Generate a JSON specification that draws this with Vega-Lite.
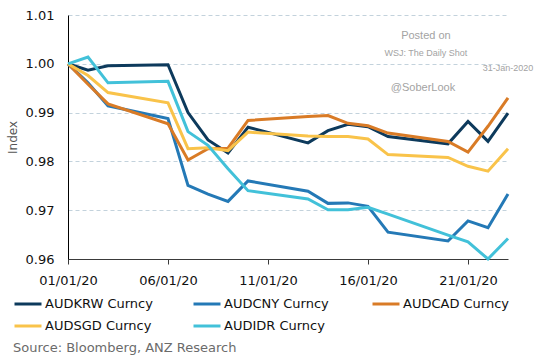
{
  "$schema": "https://vega.github.io/schema/vega-lite/v6.json",
  "width": 440,
  "height": 244,
  "autosize": {"type": "none"},
  "padding": {"left": 68, "top": 15, "right": 33, "bottom": 103},
  "background": "white",
  "title": {
    "text": "Source: Bloomberg, ANZ Research",
    "orient": "bottom",
    "anchor": "start",
    "frame": "group",
    "dx": -55,
    "offset": 9,
    "font": "DejaVu Sans",
    "fontSize": 13,
    "fontWeight": "normal",
    "color": "#6b6b6b"
  },
  "datasets": {
    "fx": [
      {"s": "AUDKRW Curncy", "d": "2020-01-01", "v": 1.0},
      {"s": "AUDKRW Curncy", "d": "2020-01-02", "v": 0.9987},
      {"s": "AUDKRW Curncy", "d": "2020-01-03", "v": 0.9996},
      {"s": "AUDKRW Curncy", "d": "2020-01-06", "v": 0.9998},
      {"s": "AUDKRW Curncy", "d": "2020-01-07", "v": 0.990},
      {"s": "AUDKRW Curncy", "d": "2020-01-08", "v": 0.9844},
      {"s": "AUDKRW Curncy", "d": "2020-01-09", "v": 0.9817},
      {"s": "AUDKRW Curncy", "d": "2020-01-10", "v": 0.987},
      {"s": "AUDKRW Curncy", "d": "2020-01-13", "v": 0.9838},
      {"s": "AUDKRW Curncy", "d": "2020-01-14", "v": 0.9863},
      {"s": "AUDKRW Curncy", "d": "2020-01-15", "v": 0.9876},
      {"s": "AUDKRW Curncy", "d": "2020-01-16", "v": 0.9871},
      {"s": "AUDKRW Curncy", "d": "2020-01-17", "v": 0.9851},
      {"s": "AUDKRW Curncy", "d": "2020-01-20", "v": 0.9836},
      {"s": "AUDKRW Curncy", "d": "2020-01-21", "v": 0.9882},
      {"s": "AUDKRW Curncy", "d": "2020-01-22", "v": 0.9841},
      {"s": "AUDKRW Curncy", "d": "2020-01-23", "v": 0.9899},
      {"s": "AUDCNY Curncy", "d": "2020-01-01", "v": 1.0},
      {"s": "AUDCNY Curncy", "d": "2020-01-02", "v": 0.9961},
      {"s": "AUDCNY Curncy", "d": "2020-01-03", "v": 0.9914},
      {"s": "AUDCNY Curncy", "d": "2020-01-06", "v": 0.9888},
      {"s": "AUDCNY Curncy", "d": "2020-01-07", "v": 0.9751},
      {"s": "AUDCNY Curncy", "d": "2020-01-08", "v": 0.9733},
      {"s": "AUDCNY Curncy", "d": "2020-01-09", "v": 0.9718},
      {"s": "AUDCNY Curncy", "d": "2020-01-10", "v": 0.976},
      {"s": "AUDCNY Curncy", "d": "2020-01-13", "v": 0.9739},
      {"s": "AUDCNY Curncy", "d": "2020-01-14", "v": 0.9714},
      {"s": "AUDCNY Curncy", "d": "2020-01-15", "v": 0.9715},
      {"s": "AUDCNY Curncy", "d": "2020-01-16", "v": 0.9708},
      {"s": "AUDCNY Curncy", "d": "2020-01-17", "v": 0.9655},
      {"s": "AUDCNY Curncy", "d": "2020-01-20", "v": 0.9637},
      {"s": "AUDCNY Curncy", "d": "2020-01-21", "v": 0.9678},
      {"s": "AUDCNY Curncy", "d": "2020-01-22", "v": 0.9664},
      {"s": "AUDCNY Curncy", "d": "2020-01-23", "v": 0.9733},
      {"s": "AUDCAD Curncy", "d": "2020-01-01", "v": 1.0},
      {"s": "AUDCAD Curncy", "d": "2020-01-02", "v": 0.9958},
      {"s": "AUDCAD Curncy", "d": "2020-01-03", "v": 0.9918},
      {"s": "AUDCAD Curncy", "d": "2020-01-06", "v": 0.9877},
      {"s": "AUDCAD Curncy", "d": "2020-01-07", "v": 0.9803},
      {"s": "AUDCAD Curncy", "d": "2020-01-08", "v": 0.9826},
      {"s": "AUDCAD Curncy", "d": "2020-01-09", "v": 0.9827},
      {"s": "AUDCAD Curncy", "d": "2020-01-10", "v": 0.9884},
      {"s": "AUDCAD Curncy", "d": "2020-01-13", "v": 0.9892},
      {"s": "AUDCAD Curncy", "d": "2020-01-14", "v": 0.9894},
      {"s": "AUDCAD Curncy", "d": "2020-01-15", "v": 0.9878},
      {"s": "AUDCAD Curncy", "d": "2020-01-16", "v": 0.9873},
      {"s": "AUDCAD Curncy", "d": "2020-01-17", "v": 0.9858},
      {"s": "AUDCAD Curncy", "d": "2020-01-20", "v": 0.9841},
      {"s": "AUDCAD Curncy", "d": "2020-01-21", "v": 0.9819},
      {"s": "AUDCAD Curncy", "d": "2020-01-22", "v": 0.9872},
      {"s": "AUDCAD Curncy", "d": "2020-01-23", "v": 0.993},
      {"s": "AUDSGD Curncy", "d": "2020-01-01", "v": 1.0},
      {"s": "AUDSGD Curncy", "d": "2020-01-02", "v": 0.9976},
      {"s": "AUDSGD Curncy", "d": "2020-01-03", "v": 0.9941},
      {"s": "AUDSGD Curncy", "d": "2020-01-06", "v": 0.992},
      {"s": "AUDSGD Curncy", "d": "2020-01-07", "v": 0.9826},
      {"s": "AUDSGD Curncy", "d": "2020-01-08", "v": 0.9828},
      {"s": "AUDSGD Curncy", "d": "2020-01-09", "v": 0.9822},
      {"s": "AUDSGD Curncy", "d": "2020-01-10", "v": 0.986},
      {"s": "AUDSGD Curncy", "d": "2020-01-13", "v": 0.9852},
      {"s": "AUDSGD Curncy", "d": "2020-01-14", "v": 0.9851},
      {"s": "AUDSGD Curncy", "d": "2020-01-15", "v": 0.9851},
      {"s": "AUDSGD Curncy", "d": "2020-01-16", "v": 0.9846},
      {"s": "AUDSGD Curncy", "d": "2020-01-17", "v": 0.9814},
      {"s": "AUDSGD Curncy", "d": "2020-01-20", "v": 0.9808},
      {"s": "AUDSGD Curncy", "d": "2020-01-21", "v": 0.979},
      {"s": "AUDSGD Curncy", "d": "2020-01-22", "v": 0.978},
      {"s": "AUDSGD Curncy", "d": "2020-01-23", "v": 0.9826},
      {"s": "AUDIDR Curncy", "d": "2020-01-01", "v": 1.0},
      {"s": "AUDIDR Curncy", "d": "2020-01-02", "v": 1.0014},
      {"s": "AUDIDR Curncy", "d": "2020-01-03", "v": 0.9961},
      {"s": "AUDIDR Curncy", "d": "2020-01-06", "v": 0.9964},
      {"s": "AUDIDR Curncy", "d": "2020-01-07", "v": 0.9861},
      {"s": "AUDIDR Curncy", "d": "2020-01-08", "v": 0.9833},
      {"s": "AUDIDR Curncy", "d": "2020-01-09", "v": 0.9785},
      {"s": "AUDIDR Curncy", "d": "2020-01-10", "v": 0.974},
      {"s": "AUDIDR Curncy", "d": "2020-01-13", "v": 0.9723},
      {"s": "AUDIDR Curncy", "d": "2020-01-14", "v": 0.9701},
      {"s": "AUDIDR Curncy", "d": "2020-01-15", "v": 0.9701},
      {"s": "AUDIDR Curncy", "d": "2020-01-16", "v": 0.9706},
      {"s": "AUDIDR Curncy", "d": "2020-01-17", "v": 0.9692},
      {"s": "AUDIDR Curncy", "d": "2020-01-20", "v": 0.9649},
      {"s": "AUDIDR Curncy", "d": "2020-01-21", "v": 0.9635},
      {"s": "AUDIDR Curncy", "d": "2020-01-22", "v": 0.960},
      {"s": "AUDIDR Curncy", "d": "2020-01-23", "v": 0.9642}
    ],
    "notes": [
      {"d": "2020-01-18T21:30:00Z", "v": 1.0057, "t": "Posted on", "a": "left", "f": 11},
      {"d": "2020-01-18T21:30:00Z", "v": 1.0022, "t": "WSJ: The Daily Shot", "a": "left", "f": 9},
      {"d": "2020-01-23T00:00:00Z", "v": 0.9992, "t": "31-Jan-2020", "a": "right", "f": 9},
      {"d": "2020-01-18T18:00:00Z", "v": 0.9951, "t": "@SoberLook", "a": "left", "f": 11}
    ]
  },
  "encoding": {
    "x": {
      "field": "d",
      "type": "temporal",
      "scale": {
        "type": "utc",
        "domain": [
          {"year": 2020, "month": 1, "date": 1, "utc": true},
          {"year": 2020, "month": 1, "date": 23, "utc": true}
        ]
      },
      "axis": {
        "title": null,
        "values": [
          {"year": 2020, "month": 1, "date": 1, "utc": true},
          {"year": 2020, "month": 1, "date": 6, "utc": true},
          {"year": 2020, "month": 1, "date": 11, "utc": true},
          {"year": 2020, "month": 1, "date": 16, "utc": true},
          {"year": 2020, "month": 1, "date": 21, "utc": true}
        ],
        "labelExpr": "utcFormat(datum.value, '%d/%m/%y')",
        "grid": false,
        "domainColor": "#3a3a3a",
        "domainWidth": 1,
        "tickColor": "#3a3a3a",
        "tickSize": 5,
        "labelPadding": 10,
        "labelFont": "DejaVu Sans",
        "labelFontSize": 13,
        "labelColor": "#111111",
        "labelFlush": false
      }
    },
    "y": {
      "field": "v",
      "type": "quantitative",
      "scale": {"domain": [0.96, 1.01], "nice": false, "zero": false},
      "axis": {
        "title": "Index",
        "titleFont": "DejaVu Sans",
        "titleFontSize": 12,
        "titleFontWeight": "normal",
        "titleColor": "#555555",
        "titlePadding": 6,
        "values": [0.96, 0.97, 0.98, 0.99, 1.0, 1.01],
        "format": ".2f",
        "ticks": false,
        "labelPadding": 14,
        "labelFont": "DejaVu Sans",
        "labelFontSize": 13,
        "labelColor": "#111111",
        "domainColor": "#000000",
        "domainWidth": 1,
        "grid": true,
        "gridColor": "#c3d2dc",
        "gridDash": [4, 3],
        "gridWidth": 1
      }
    }
  },
  "layer": [
    {
      "data": {"name": "fx"},
      "mark": {"type": "line", "strokeWidth": 3, "clip": false},
      "encoding": {
        "color": {
          "field": "s",
          "type": "nominal",
          "scale": {
            "domain": ["AUDKRW Curncy", "AUDCNY Curncy", "AUDCAD Curncy", "AUDSGD Curncy", "AUDIDR Curncy"],
            "range": ["#0d3a5c", "#2479b6", "#d97b26", "#f9c34a", "#42c1d9"]
          },
          "legend": {
            "title": null,
            "orient": "none",
            "legendX": -55,
            "legendY": 274,
            "direction": "horizontal",
            "columns": 3,
            "gridAlign": "all",
            "columnPadding": 34,
            "rowPadding": -4,
            "symbolType": "stroke",
            "symbolSize": 729,
            "symbolStrokeWidth": 3,
            "labelOffset": 2,
            "labelFont": "DejaVu Sans",
            "labelFontSize": 13,
            "labelColor": "#111111",
            "labelLimit": 200,
            "padding": 0
          }
        }
      }
    },
    {
      "data": {"name": "notes"},
      "mark": {"type": "text", "font": "Liberation Sans", "color": "#a3a3a3", "baseline": "middle", "clip": false},
      "encoding": {
        "text": {"field": "t"},
        "align": {"field": "a", "type": "nominal", "scale": null},
        "size": {"field": "f", "type": "quantitative", "scale": null}
      }
    }
  ],
  "config": {
    "view": {"stroke": null}
  }
}
